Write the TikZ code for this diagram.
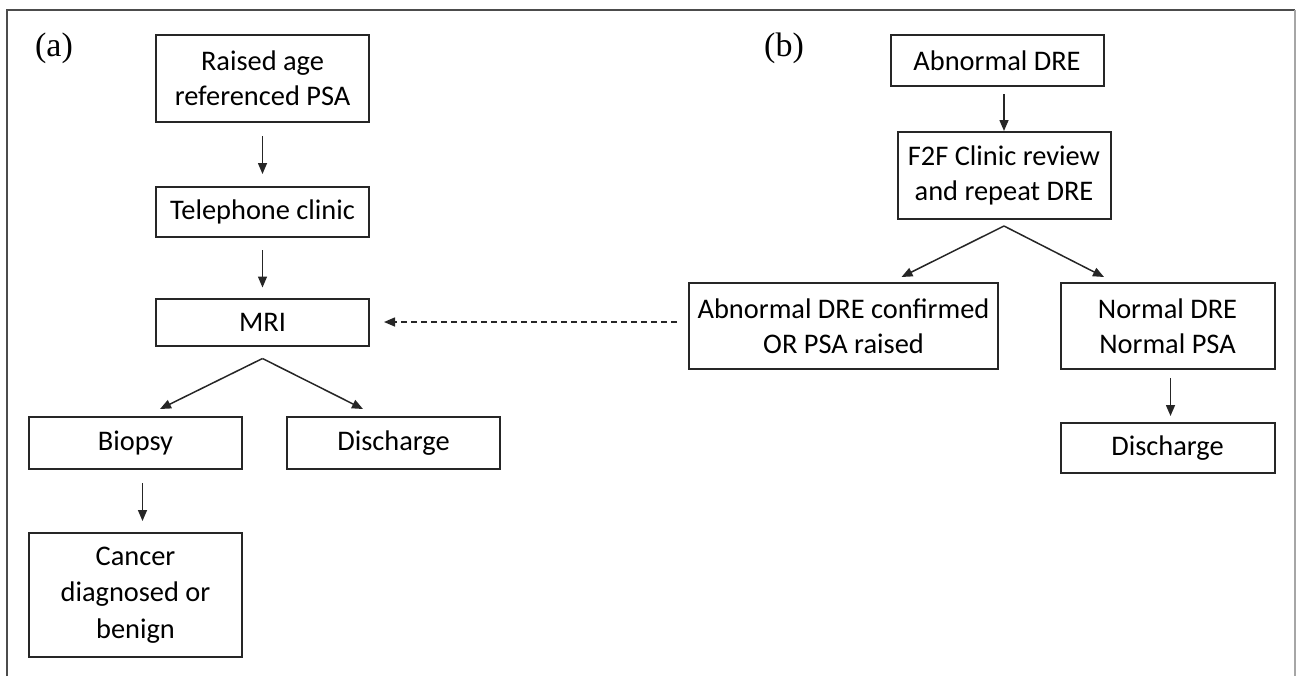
\documentclass[tikz,border=0pt]{standalone}
\usepackage{fontspec}
\setmainfont{Carlito}
\newfontfamily\labelfont{Liberation Serif}
\usetikzlibrary{arrows.meta}

\tikzset{
	box/.style={draw=black!85,line width=1pt,inner sep=0pt,align=center,
		minimum width=106.5pt,font=\fontsize{14.2}{17.5}\selectfont},
	arr/.style={black!85,line width=0.75pt,-{Triangle[length=5.5pt,width=4.5pt]}},
	dasharr/.style={arr,dash pattern=on 3pt off 2pt},
	panel/.style={font=\labelfont\fontsize{17}{19}\selectfont}
}

\begin{document}
\begin{tikzpicture}[x=0.5pt,y=-0.5pt]
\useasboundingbox (0,0) rectangle (1296,676);
% frame
\draw[black!70,line width=1.2pt] (7,676) -- (7,10) -- (1295,10);
\draw[black!35,line width=0.6pt] (1295,10) -- (1295,676);

% (a) telephone pathway
\node[panel] (la) at (54,48) {(a)};
\node[box,minimum height=43.5pt] (raised) at (262.5,78.5) {Raised age\\referenced PSA};
\node[box,minimum height=25pt] (phone) at (262.5,212) {Telephone clinic};
\node[box,minimum height=23.5pt] (mri) at (262.5,322) {MRI};
\node[box,minimum height=26pt] (biopsy) at (135.5,443) {Biopsy};
\node[box,minimum height=26pt] (disa) at (393.5,443) {Discharge};
\node[box,minimum height=62pt,font=\fontsize{14.2}{18.2}\selectfont] (cancer) at (135.5,595) {Cancer\\diagnosed or\\benign};

\draw[arr,shorten <=6.5pt,shorten >=6pt] (raised) -- (phone);
\draw[arr,shorten <=6pt,shorten >=5pt] (phone) -- (mri);
\draw[arr] ([yshift=-6pt]mri.south) -- ([xshift=12.25pt,yshift=3.5pt]biopsy.north);
\draw[arr] ([yshift=-6pt]mri.south) -- ([xshift=-15.25pt,yshift=3.5pt]disa.north);
\draw[arr,shorten <=6.5pt,shorten >=5.5pt] ([xshift=3.5pt]biopsy.south) -- ([xshift=3.5pt]cancer.north);

% (b) abnormal DRE pathway
\node[panel] (lb) at (784,48) {(b)};
\node[box,minimum height=25.5pt] (abn) at (997,60.5) {Abnormal DRE};
\node[box,minimum height=43.5pt] (f2f) at (1004,175.5) {F2F Clinic review\\and repeat DRE};
\node[box,minimum height=43pt,minimum width=154.5pt] (conf) at (843.5,326) {Abnormal DRE confirmed\\OR PSA raised};
\node[box,minimum height=43pt,minimum width=107pt] (norm) at (1167.5,326) {Normal DRE\\Normal PSA};
\node[box,minimum height=25pt,minimum width=107pt] (disb) at (1167.5,448) {Discharge};

\draw[arr,shorten <=3.5pt] (abn.south -| f2f) -- (f2f.north);
\draw[arr] ([yshift=-3pt]f2f.south) -- ([xshift=29pt,yshift=2.5pt]conf.north);
\draw[arr] ([yshift=-3pt]f2f.south) -- ([xshift=-31.75pt,yshift=2.5pt]norm.north);
\draw[arr,shorten <=4pt,shorten >=3pt] ([xshift=1.5pt]norm.south) -- ([xshift=1.5pt]disb.north);

\draw[dasharr] ([xshift=-5.5pt]conf.west |- mri.east) -- ([xshift=7pt]mri.east);

\end{tikzpicture}
\end{document}
